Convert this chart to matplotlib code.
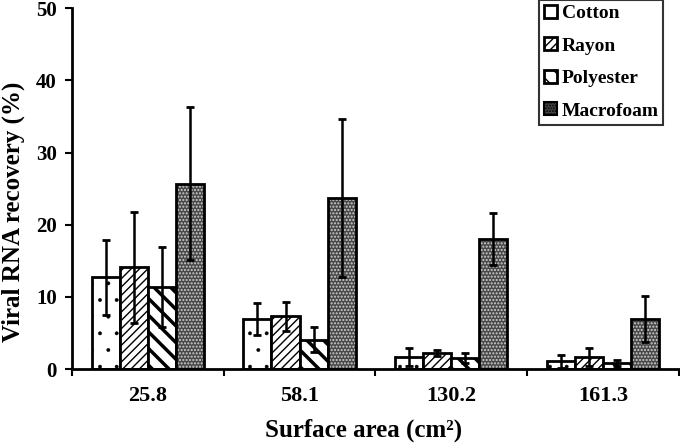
import numpy as np
import matplotlib
matplotlib.use("Agg")
import matplotlib.pyplot as plt
from matplotlib.patches import Patch

# ==========================================
# Data
# ==========================================
surface_areas = ["25.8", "58.1", "130.2", "161.3"]
swab_types = ["Cotton", "Rayon", "Polyester", "Macrofoam"]

cotton = [12.7, 7.0, 1.7, 1.1]
rayon = [14.1, 7.3, 2.2, 1.7]
polyester = [11.4, 4.1, 1.6, 0.9]
macrofoam = [25.7, 23.7, 18.0, 7.0]

cotton_err = [5.2, 2.2, 1.2, 0.9]
rayon_err = [7.7, 2.0, 0.4, 1.2]
polyester_err = [5.5, 1.7, 0.7, 0.4]
macrofoam_err = [10.6, 10.9, 3.6, 3.2]

plt.rcParams['font.family'] = ['Liberation Serif', 'DejaVu Serif']
plt.rcParams['font.weight'] = 'bold'

fig = plt.figure(figsize=(6.8, 4.47), dpi=100)
ax = fig.add_axes([0.106, 0.174, 0.892, 0.808])

values = [cotton, rayon, polyester, macrofoam]
errors = [cotton_err, rayon_err, polyester_err, macrofoam_err]
hatches = ['.', '////', '\\\\', '.....']
hatch_lw = [0.3, 1.0, 2.5, 1.0]

x = np.arange(len(surface_areas))
width = 0.185
handles = []
for i, (vals, errs) in enumerate(zip(values, errors)):
    pos = x + (i - 1.5) * width
    if i == 3:
        # gray fill with light dots, black outline drawn on top
        ax.bar(pos, vals, width, color='#484848', hatch=hatches[i],
               edgecolor='#d0d0d0', linewidth=0, zorder=2)
        ax.bar(pos, vals, width, facecolor='none', edgecolor='black',
               linewidth=2, zorder=3)
        handles.append(Patch(facecolor='#484848', edgecolor='black',
                             hatch='......', linewidth=1.5,
                             label=swab_types[i]))
    else:
        with plt.rc_context({'hatch.linewidth': hatch_lw[i]}):
            b = ax.bar(pos, vals, width, color='white', hatch=hatches[i],
                       edgecolor='black', linewidth=2, zorder=2,
                       label=swab_types[i])
        handles.append(b)
    ax.errorbar(pos, vals, yerr=errs, fmt='none', ecolor='black',
                elinewidth=1.8, capsize=3, capthick=2, zorder=4)

ax.set_xlim(-0.5, 3.5)
ax.set_ylim(0, 50)
ax.set_yticks(range(0, 51, 10))
ax.set_xticks(x)
ax.set_xticklabels(surface_areas, fontsize=16, fontweight='bold')
ax.set_xticks(np.arange(-0.5, 4.0, 1.0), minor=True)
ax.tick_params(axis='x', which='major', length=0, pad=12)
ax.tick_params(axis='x', which='minor', length=5, width=1.5, direction='out')
ax.tick_params(axis='y', labelsize=15, length=5, width=1.5, pad=6)
for lbl in ax.get_yticklabels():
    lbl.set_fontweight('bold')

for side in ['top', 'right']:
    ax.spines[side].set_visible(False)
for side in ['left', 'bottom']:
    ax.spines[side].set_linewidth(2)

ax.set_ylabel('Viral RNA recovery (%)', fontsize=18, fontweight='bold')
ax.yaxis.set_label_coords(-0.078, 0.435)
ax.set_xlabel('Surface area (cm²)', fontsize=18, fontweight='bold')
ax.xaxis.set_label_coords(0.48, -0.138)

leg = ax.legend(handles=handles, loc='upper right', bbox_to_anchor=(0.975, 1.022),
                frameon=True, fancybox=False, edgecolor='black',
                prop={'size': 14, 'weight': 'bold'}, handlelength=0.65,
                handleheight=0.65, handletextpad=0.25, labelspacing=0.78,
                borderpad=0.25, borderaxespad=0)
leg.get_frame().set_linewidth(1.5)

fig.savefig('out.png', dpi=100)
